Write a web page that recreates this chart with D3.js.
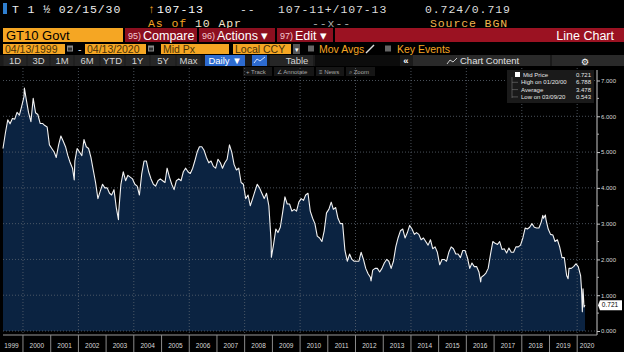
<!DOCTYPE html>
<html>
<head>
<meta charset="utf-8">
<script src="https://cdnjs.cloudflare.com/ajax/libs/d3/7.8.5/d3.min.js"></script>
<style>
  body { margin: 0; background: #000; }
  svg { display: block; }
</style>
</head>
<body>
<svg></svg>
<script>
  // ---- data ----
  const yieldYears = [1999, 2000, 2001, 2002, 2003, 2004, 2005, 2006, 2007, 2008, 2009,
                      2010, 2011, 2012, 2013, 2014, 2015, 2016, 2017, 2018, 2019, 2020];
  // mid-month values, Jan..Dec
  const monthlyYield = [
    [null, null, null, null, 5.54, 5.90, 5.79, 5.94, 5.92, 6.11, 6.03, 6.28],
    [6.55, 6.45, 6.10, 5.85, 6.50, 6.10, 6.05, 5.80, 5.80, 5.74, 5.70, 5.20],
    [5.10, 5.00, 4.85, 5.20, 5.45, 5.30, 5.15, 4.90, 4.70, 4.55, 4.75, 5.10],
    [5.00, 4.90, 5.35, 5.15, 5.10, 4.85, 4.50, 4.15, 3.70, 3.90, 4.10, 4.00],
    [4.00, 3.85, 3.80, 3.95, 3.45, 3.30, 4.10, 4.45, 4.20, 4.35, 4.30, 4.25],
    [4.10, 4.05, 3.80, 4.40, 4.75, 4.75, 4.45, 4.25, 4.10, 4.05, 4.20, 4.25],
    [4.20, 4.15, 4.55, 4.30, 4.10, 3.95, 4.20, 4.25, 4.20, 4.45, 4.55, 4.45],
    [4.40, 4.55, 4.75, 5.00, 5.15, 5.15, 5.05, 4.85, 4.70, 4.75, 4.60, 4.55],
    [4.80, 4.70, 4.55, 4.70, 4.80, 5.20, 5.00, 4.65, 4.50, 4.55, 4.15, 4.10],
    [3.70, 3.80, 3.50, 3.70, 3.90, 4.10, 4.00, 3.85, 3.70, 3.85, 3.50, 2.50],
    [2.40, 2.85, 2.75, 2.90, 3.30, 3.75, 3.55, 3.55, 3.35, 3.40, 3.35, 3.60],
    [3.70, 3.65, 3.80, 3.85, 3.35, 3.15, 3.00, 2.65, 2.60, 2.50, 2.80, 3.30],
    [3.40, 3.60, 3.40, 3.45, 3.15, 3.00, 3.00, 2.25, 1.95, 2.15, 2.00, 1.95],
    [1.95, 1.95, 2.20, 2.00, 1.75, 1.60, 1.50, 1.70, 1.75, 1.75, 1.65, 1.75],
    [1.90, 2.00, 1.95, 1.75, 1.95, 2.35, 2.60, 2.80, 2.85, 2.60, 2.75, 2.95],
    [2.85, 2.70, 2.75, 2.70, 2.55, 2.60, 2.50, 2.40, 2.55, 2.30, 2.35, 2.20],
    [1.85, 2.00, 2.00, 1.95, 2.20, 2.35, 2.30, 2.15, 2.15, 2.05, 2.25, 2.25],
    [2.05, 1.75, 1.90, 1.80, 1.80, 1.65, 1.50, 1.55, 1.62, 1.75, 2.15, 2.50],
    [2.45, 2.42, 2.50, 2.28, 2.30, 2.18, 2.32, 2.20, 2.20, 2.35, 2.35, 2.40],
    [2.60, 2.88, 2.85, 2.90, 3.00, 2.90, 2.88, 2.88, 3.05, 3.15, 3.12, 2.85],
    [2.70, 2.68, 2.50, 2.55, 2.35, 2.05, 2.05, 1.55, 1.75, 1.75, 1.80, 1.88],
    [1.80, 1.55, null, null, null, null, null, null, null, null, null, null]
  ];
  // intra-month extremes and end points
  const extraDates = ["1999-04-13", "2000-01-20", "2001-11-07", "2003-06-13", "2008-12-18",
                      "2012-07-24", "2016-07-08", "2018-10-05", "2018-11-08", "2019-09-03",
                      "2020-02-28", "2020-03-09", "2020-03-18", "2020-03-31", "2020-04-13"];
  const extraYields = [5.10, 6.79, 4.22, 3.11, 2.06,
                       1.40, 1.37, 3.23, 3.24, 1.46,
                       1.13, 0.54, 1.18, 0.67, 0.72];

  const yTicks = [0, 1, 2, 3, 4, 5, 6, 7];
  const yMinorTicks = [0.5, 1.5, 2.5, 3.5, 4.5, 5.5, 6.5];
  const legendLabels = ["Mid Price", "High on 01/20/00", "Average", "Low on 03/09/20"];
  const legendValues = ["0.721", "6.788", "3.478", "0.543"];
  const lastValue = 0.721;
  const rangeButtons = ["1D", "3D", "1M", "6M", "YTD", "1Y", "5Y", "Max"];

  const width = 624, height = 352;
  const orange = "#f5a623", red = "#8c0f1f";
  const svg = d3.select("svg").attr("width", width).attr("height", height)
    .style("background", "#000");

  const parse = d3.timeParse("%Y-%m-%d");
  let series = [];
  yieldYears.forEach(function(yr, i) {
    monthlyYield[i].forEach(function(v, m) {
      if (v != null) series.push({date: new Date(yr, m, 15), v: v});
    });
  });
  extraDates.forEach(function(d, i) { series.push({date: parse(d), v: extraYields[i]}); });
  series.sort((a, b) => a.date - b.date);

  let x = d3.scaleTime().domain([parse("1999-04-13"), parse("2020-04-13")]).range([3, 585]);
  let y = d3.scaleLinear().domain([0, 7]).range([331, 80.5]);
  const axisX = 597;

  // ---- header ----
  let hdr = svg.append("g").style("font-family", "'Liberation Mono', monospace")
    .style("font-size", "11.5px").style("letter-spacing", "0.9px");
  hdr.append("rect").attr("x", 3).attr("y", 3).attr("width", 4).attr("height", 11).attr("fill", "#2f7fd0");
  hdr.append("text").attr("x", 12).attr("y", 13).attr("fill", "#eee").text("T 1 ½ 02/15/30");
  hdr.append("text").attr("x", 148).attr("y", 13).attr("fill", orange).text("↑");
  hdr.append("text").attr("x", 157).attr("y", 13).attr("fill", "#fff").text("107-13");
  hdr.append("text").attr("x", 240).attr("y", 13).attr("fill", "#ddd").text("--");
  hdr.append("text").attr("x", 278).attr("y", 13).attr("fill", "#ddd").text("107-11+/107-13");
  hdr.append("text").attr("x", 425).attr("y", 13).attr("fill", "#ddd").text("0.724/0.719");
  hdr.append("text").attr("x", 148).attr("y", 26.5).attr("fill", orange).text("As of");
  hdr.append("text").attr("x", 195).attr("y", 26.5).attr("fill", "#f3e6cc").text("10 Apr");
  hdr.append("text").attr("x", 312).attr("y", 26.5).attr("fill", "#aaa").text("--x--");
  hdr.append("text").attr("x", 430).attr("y", 26.5).attr("fill", "#f2b64c").text("Source BGN");

  // row 3: security + red buttons
  let r3 = svg.append("g").style("font-family", "'Liberation Sans', Arial, sans-serif");
  r3.append("rect").attr("x", 3).attr("y", 28).attr("width", 120).attr("height", 14).attr("fill", orange);
  r3.append("text").attr("x", 6).attr("y", 40).attr("fill", "#000").style("font-size", "13px").text("GT10 Govt");
  r3.append("rect").attr("x", 335).attr("y", 28).attr("width", 289).attr("height", 14).attr("fill", "#9b1222");
  const redButtons = [{x: 125, w: 72, n: "95)", t: "Compare"}, {x: 199, w: 76, n: "96)", t: "Actions ▾"}, {x: 277, w: 56, n: "97)", t: "Edit ▾"}];
  redButtons.forEach(function(b) {
    r3.append("rect").attr("x", b.x).attr("y", 28).attr("width", b.w).attr("height", 14).attr("fill", red);
    r3.append("text").attr("x", b.x + 3).attr("y", 39).attr("fill", "#f3c9cf").style("font-size", "9px").text(b.n);
    r3.append("text").attr("x", b.x + 18).attr("y", 40).attr("fill", "#fff").style("font-size", "12.5px").text(b.t);
  });
  r3.append("text").attr("x", 614).attr("y", 40).attr("text-anchor", "end").attr("fill", "#fff")
    .style("font-size", "12.5px").text("Line Chart");

  // row 4: dates and options
  let r4 = svg.append("g").style("font-family", "'Liberation Sans', Arial, sans-serif").style("font-size", "10.5px");
  const fields = [{x: 3, w: 62, t: "04/13/1999"}, {x: 85, w: 61, t: "04/13/2020"}, {x: 161, w: 68, t: "Mid Px"}, {x: 233, w: 58, t: "Local CCY"}];
  fields.forEach(function(f) {
    r4.append("rect").attr("x", f.x).attr("y", 44).attr("width", f.w).attr("height", 10).attr("fill", orange);
    r4.append("text").attr("x", f.x + 2).attr("y", 53).attr("fill", "#4a3208").text(f.t);
  });
  [67, 148].forEach(function(cx) {
    r4.append("rect").attr("x", cx).attr("y", 45.5).attr("width", 6).attr("height", 6).attr("fill", "#8a8a8a");
    r4.append("rect").attr("x", cx + 1).attr("y", 47.5).attr("width", 4).attr("height", 3).attr("fill", "#333");
  });
  r4.append("text").attr("x", 78).attr("y", 53).attr("fill", "#ddd").text("-");
  r4.append("rect").attr("x", 293).attr("y", 44).attr("width", 7).attr("height", 10).attr("fill", "#555");
  r4.append("text").attr("x", 296.5).attr("y", 52).attr("text-anchor", "middle").attr("fill", "#fff").style("font-size", "7px").text("▾");
  [308, 385].forEach(function(cx) {
    r4.append("rect").attr("x", cx).attr("y", 45.5).attr("width", 6).attr("height", 6).attr("fill", "#666");
  });
  r4.append("text").attr("x", 319).attr("y", 53).attr("fill", orange).text("Mov Avgs");
  r4.append("line").attr("x1", 366).attr("y1", 53).attr("x2", 374).attr("y2", 45).attr("stroke", "#ddd").attr("stroke-width", 1.5);
  r4.append("text").attr("x", 397).attr("y", 53).attr("fill", orange).text("Key Events");

  // row 5: toolbar
  let r5 = svg.append("g").style("font-family", "'Liberation Sans', Arial, sans-serif").style("font-size", "9.5px");
  r5.append("rect").attr("x", 0).attr("y", 55).attr("width", width).attr("height", 11).attr("fill", "#1b1b1b");
  const btnEdges = [3, 27, 50, 74, 100, 125, 150, 176, 201];
  rangeButtons.forEach(function(t, i) {
    r5.append("rect").attr("x", btnEdges[i] + 0.5).attr("y", 55).attr("width", btnEdges[i + 1] - btnEdges[i] - 1)
      .attr("height", 11).attr("fill", "#262626");
    r5.append("text").attr("x", (btnEdges[i] + btnEdges[i + 1]) / 2).attr("y", 64).attr("text-anchor", "middle")
      .attr("fill", "#d4d4d4").text(t);
  });
  r5.append("rect").attr("x", 205).attr("y", 55).attr("width", 40).attr("height", 11).attr("fill", "#2d6bd0");
  r5.append("text").attr("x", 225).attr("y", 64).attr("text-anchor", "middle").attr("fill", "#fff").text("Daily ▼");
  r5.append("rect").attr("x", 252).attr("y", 55).attr("width", 15).attr("height", 11).attr("fill", "#2d6bd0");
  r5.append("polyline").attr("points", "254,63 257,59 260,61 265,57").attr("fill", "none").attr("stroke", "#cfe0ff").attr("stroke-width", 1);
  r5.append("rect").attr("x", 270).attr("y", 55).attr("width", 43).attr("height", 11).attr("fill", "#262626");
  r5.append("text").attr("x", 297).attr("y", 64).attr("text-anchor", "middle").attr("fill", "#d4d4d4").text("Table");
  r5.append("rect").attr("x", 315).attr("y", 55).attr("width", 85).attr("height", 11).attr("fill", "#0c0c0c");
  r5.append("text").attr("x", 406).attr("y", 64).attr("text-anchor", "middle").attr("fill", "#fff").style("font-weight", "bold").text("«");
  r5.append("rect").attr("x", 413).attr("y", 55).attr("width", 137).attr("height", 11).attr("fill", "#2a2a2a");
  r5.append("polyline").attr("points", "447,64 450,60 453,62 457,58").attr("fill", "none").attr("stroke", "#ccc").attr("stroke-width", 1);
  r5.append("text").attr("x", 460).attr("y", 64).attr("fill", "#e0e0e0").text("Chart Content");
  r5.append("rect").attr("x", 552).attr("y", 55).attr("width", 72).attr("height", 11).attr("fill", "#2a2a2a");
  r5.append("text").attr("x", 585).attr("y", 64.5).attr("text-anchor", "middle").attr("fill", "#fff")
    .style("font-family", "'DejaVu Sans'").style("font-size", "9px").text("⚙");

  // row 6: chart tools
  let r6 = svg.append("g").style("font-family", "'Liberation Sans', Arial, sans-serif").style("font-size", "6px");
  const tools = [{x: 243, w: 29, t: "+ Track"}, {x: 274, w: 40, t: "∠ Annotate"}, {x: 316, w: 28, t: "≡ News"}, {x: 346, w: 29, t: "⌕ Zoom"}];
  tools.forEach(function(t) {
    r6.append("rect").attr("x", t.x).attr("y", 67).attr("width", t.w).attr("height", 9).attr("fill", "#161616");
    r6.append("text").attr("x", t.x + 3).attr("y", 74).attr("fill", "#a8a8a8").text(t.t);
  });

  // ---- chart ----
  let plot = svg.append("g");
  let area = d3.area().x(d => x(d.date)).y0(y(0)).y1(d => y(d.v));
  let line = d3.line().x(d => x(d.date)).y(d => y(d.v));

  plot.append("path").datum(series).attr("d", area).attr("fill", "#0b2341");

  // dotted grid
  plot.selectAll(".hgrid").data(yTicks).enter().append("line").attr("class", "hgrid")
    .attr("x1", 3).attr("x2", axisX).attr("y1", d => y(d)).attr("y2", d => y(d))
    .attr("stroke", "#5c6470").attr("stroke-width", 0.8).attr("stroke-dasharray", "1,2");
  let evenYears = d3.range(2000, 2021, 2);
  plot.selectAll(".vgrid").data(evenYears).enter().append("line").attr("class", "vgrid")
    .attr("x1", d => x(new Date(d, 0, 1))).attr("x2", d => x(new Date(d, 0, 1)))
    .attr("y1", 68).attr("y2", 333)
    .attr("stroke", "#5c6470").attr("stroke-width", 0.8).attr("stroke-dasharray", "1,2");

  plot.append("path").datum(series).attr("d", line).attr("fill", "none")
    .attr("stroke", "#f2f2f2").attr("stroke-width", 1.1).attr("stroke-linejoin", "round");

  // right axis
  svg.append("line").attr("x1", axisX).attr("x2", axisX).attr("y1", 70).attr("y2", 335).attr("stroke", "#c8c8c8");
  let axisG = svg.append("g").attr("transform", "translate(" + axisX + ",0)")
    .call(d3.axisRight(y).tickValues(yTicks).tickSize(3).tickPadding(1).tickFormat(d3.format(".3f")));
  axisG.select(".domain").remove();
  axisG.selectAll("line").attr("stroke", "#c8c8c8");
  axisG.selectAll("text").attr("fill", "#d8d8d8").style("font-family", "'Liberation Sans', Arial, sans-serif").style("font-size", "6px");
  svg.selectAll(".minor").data(yMinorTicks).enter().append("line").attr("class", "minor")
    .attr("x1", axisX).attr("x2", axisX + 2).attr("y1", d => y(d)).attr("y2", d => y(d)).attr("stroke", "#aaa");

  // last value tag
  let ty = y(lastValue);
  svg.append("path").attr("d", "M" + (axisX + 1) + "," + ty + " L" + (axisX + 3) + "," + (ty - 5) + " H622 V" + (ty + 5) + " H" + (axisX + 3) + " Z")
    .attr("fill", "#fff");
  svg.append("text").attr("x", 610).attr("y", ty + 2.2).attr("text-anchor", "middle").attr("fill", "#000")
    .style("font-family", "'Liberation Sans', Arial, sans-serif").style("font-size", "6.5px").text(lastValue.toFixed(3));

  // bottom axis
  svg.append("line").attr("x1", 3).attr("x2", axisX).attr("y1", 335).attr("y2", 335).attr("stroke", "#9a9a9a");
  let allYears = d3.range(1999, 2021);
  svg.selectAll(".ysep").data(allYears.slice(1)).enter().append("line").attr("class", "ysep")
    .attr("x1", d => x(new Date(d, 0, 1))).attr("x2", d => x(new Date(d, 0, 1)))
    .attr("y1", 335).attr("y2", 352).attr("stroke", "#8a8a8a");
  svg.selectAll(".ylab").data(allYears).enter().append("text").attr("class", "ylab")
    .attr("x", function(d) {
      let a = Math.max(x(new Date(d, 0, 1)), 0), b = Math.min(x(new Date(d + 1, 0, 1)), axisX);
      return (a + b) / 2;
    })
    .attr("y", 348).attr("text-anchor", "middle").attr("fill", "#d8d8d8")
    .style("font-family", "'Liberation Sans', Arial, sans-serif").style("font-size", "6.5px")
    .text(d => d);

  // legend box
  let lg = svg.append("g").style("font-family", "'Liberation Sans', Arial, sans-serif").style("font-size", "6px");
  lg.append("rect").attr("x", 507).attr("y", 70).attr("width", 87).attr("height", 33).attr("fill", "#1a1a1a");
  lg.append("line").attr("x1", 512).attr("x2", 512).attr("y1", 77).attr("y2", 98).attr("stroke", "#777").attr("stroke-width", 0.6);
  lg.append("rect").attr("x", 515).attr("y", 72).attr("width", 5).attr("height", 5).attr("fill", "#fff");
  legendLabels.forEach(function(l, i) {
    let ly = 77 + i * 7.3;
    if (i > 0) {
      lg.append("line").attr("x1", 512).attr("x2", 518).attr("y1", ly - 2).attr("y2", ly - 2).attr("stroke", "#777").attr("stroke-width", 0.6);
    }
    lg.append("text").attr("x", i === 0 ? 523 : 521).attr("y", ly).attr("fill", "#e6e6e6").text(l);
    lg.append("text").attr("x", 591).attr("y", ly).attr("text-anchor", "end").attr("fill", "#e6e6e6").text(legendValues[i]);
  });
</script>
</body>
</html>
